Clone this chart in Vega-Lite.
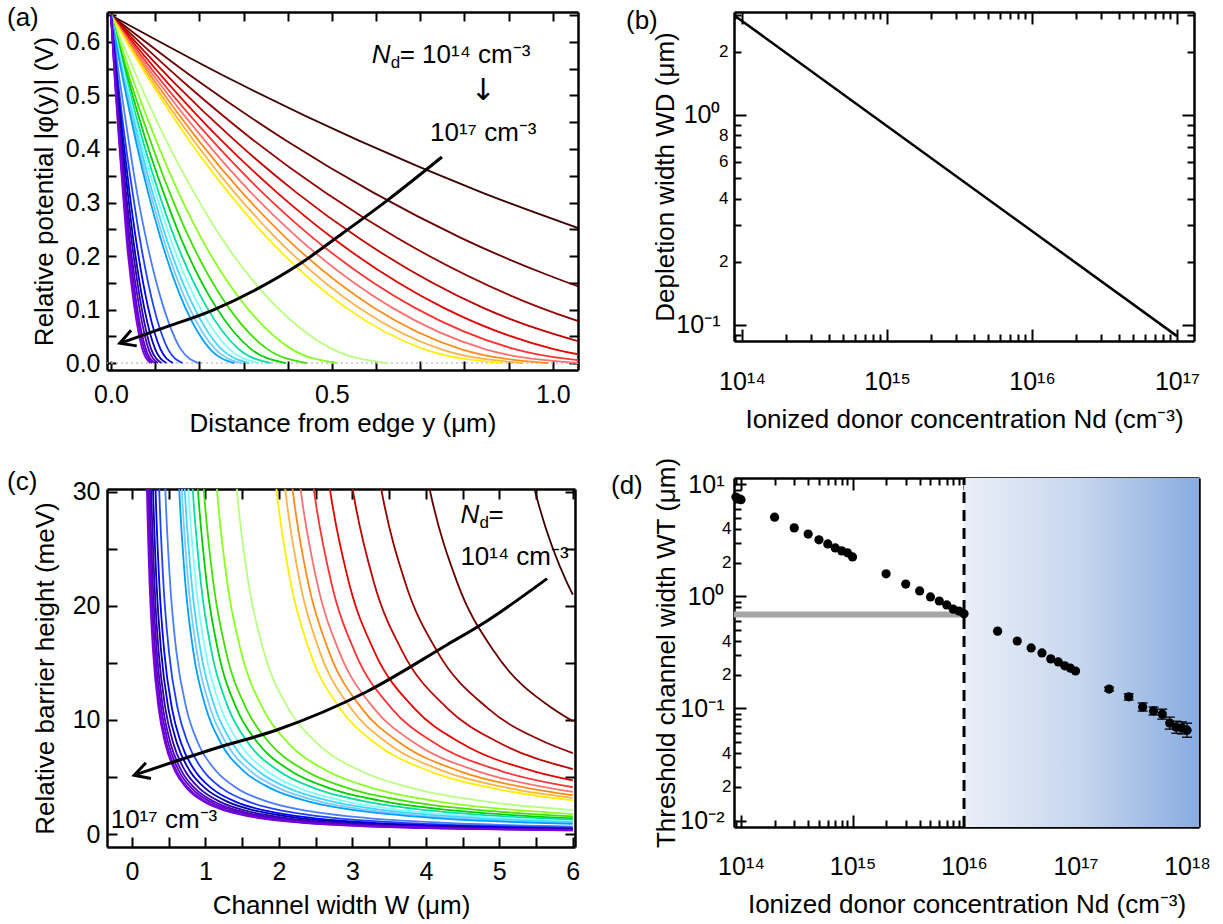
{
  "$schema": "https://vega.github.io/schema/vega-lite/v6.json",
  "padding": {"left": 7, "top": 3, "right": 5, "bottom": 5},
  "background": "white",
  "config": {
    "font": "Liberation Sans",
    "view": {"stroke": null},
    "axis": {"labelFont": "Liberation Sans", "titleFont": "Liberation Sans", "labelFontSize": 25, "titleFontSize": 26, "titleFontWeight": "normal", "labelColor": "black", "titleColor": "black", "tickColor": "black", "domainColor": "black", "tickWidth": 2, "domainWidth": 2.5, "grid": false, "labelOverlap": false, "labelFlush": false, "labelBound": false, "zindex": 1},
    "title": {"font": "Liberation Sans", "fontSize": 26, "fontWeight": "normal", "anchor": "start", "frame": "group", "baseline": "alphabetic", "color": "black", "offset": 0},
    "text": {"font": "Liberation Sans", "fontSize": 26, "color": "black"}
  },
  "datasets": {
    "phi": [
      {"n":0,"x":0,"y":0.65},{"n":0,"x":0.28,"y":0.5265},{"n":0,"x":0.56,"y":0.416},{"n":0,"x":0.84,"y":0.3185},{"n":0,"x":1.12,"y":0.234},
      {"n":1,"x":0,"y":0.65},{"n":1,"x":0.198,"y":0.5265},{"n":1,"x":0.396,"y":0.416},{"n":1,"x":0.594,"y":0.3185},{"n":1,"x":0.792,"y":0.234},{"n":1,"x":1.188,"y":0.104},
      {"n":2,"x":0,"y":0.65},{"n":2,"x":0.162,"y":0.5265},{"n":2,"x":0.323,"y":0.416},{"n":2,"x":0.485,"y":0.3185},{"n":2,"x":0.647,"y":0.234},{"n":2,"x":0.97,"y":0.104},{"n":2,"x":1.294,"y":0.026},
      {"n":3,"x":0,"y":0.65},{"n":3,"x":0.14,"y":0.5265},{"n":3,"x":0.28,"y":0.416},{"n":3,"x":0.42,"y":0.3185},{"n":3,"x":0.56,"y":0.234},{"n":3,"x":0.84,"y":0.104},{"n":3,"x":1.12,"y":0.026},
      {"n":4,"x":0,"y":0.65},{"n":4,"x":0.125,"y":0.5265},{"n":4,"x":0.25,"y":0.416},{"n":4,"x":0.376,"y":0.3185},{"n":4,"x":0.501,"y":0.234},{"n":4,"x":0.751,"y":0.104},{"n":4,"x":1.002,"y":0.026},{"n":4,"x":1.252,"y":0},
      {"n":5,"x":0,"y":0.65},{"n":5,"x":0.114,"y":0.5265},{"n":5,"x":0.229,"y":0.416},{"n":5,"x":0.343,"y":0.3185},{"n":5,"x":0.457,"y":0.234},{"n":5,"x":0.686,"y":0.104},{"n":5,"x":0.914,"y":0.026},{"n":5,"x":1.143,"y":0},
      {"n":6,"x":0,"y":0.65},{"n":6,"x":0.106,"y":0.5265},{"n":6,"x":0.212,"y":0.416},{"n":6,"x":0.317,"y":0.3185},{"n":6,"x":0.423,"y":0.234},{"n":6,"x":0.635,"y":0.104},{"n":6,"x":0.846,"y":0.026},{"n":6,"x":1.058,"y":0},
      {"n":7,"x":0,"y":0.65},{"n":7,"x":0.099,"y":0.5265},{"n":7,"x":0.198,"y":0.416},{"n":7,"x":0.297,"y":0.3185},{"n":7,"x":0.396,"y":0.234},{"n":7,"x":0.594,"y":0.104},{"n":7,"x":0.792,"y":0.026},{"n":7,"x":0.99,"y":0},
      {"n":8,"x":0,"y":0.65},{"n":8,"x":0.093,"y":0.5265},{"n":8,"x":0.187,"y":0.416},{"n":8,"x":0.28,"y":0.3185},{"n":8,"x":0.373,"y":0.234},{"n":8,"x":0.56,"y":0.104},{"n":8,"x":0.746,"y":0.026},{"n":8,"x":0.933,"y":0},
      {"n":9,"x":0,"y":0.65},{"n":9,"x":0.089,"y":0.5265},{"n":9,"x":0.177,"y":0.416},{"n":9,"x":0.266,"y":0.3185},{"n":9,"x":0.354,"y":0.234},{"n":9,"x":0.531,"y":0.104},{"n":9,"x":0.708,"y":0.026},{"n":9,"x":0.885,"y":0},
      {"n":10,"x":0,"y":0.65},{"n":10,"x":0.063,"y":0.5265},{"n":10,"x":0.125,"y":0.416},{"n":10,"x":0.188,"y":0.3185},{"n":10,"x":0.25,"y":0.234},{"n":10,"x":0.376,"y":0.104},{"n":10,"x":0.501,"y":0.026},{"n":10,"x":0.626,"y":0},
      {"n":11,"x":0,"y":0.65},{"n":11,"x":0.051,"y":0.5265},{"n":11,"x":0.102,"y":0.416},{"n":11,"x":0.153,"y":0.3185},{"n":11,"x":0.204,"y":0.234},{"n":11,"x":0.307,"y":0.104},{"n":11,"x":0.409,"y":0.026},{"n":11,"x":0.511,"y":0},
      {"n":12,"x":0,"y":0.65},{"n":12,"x":0.044,"y":0.5265},{"n":12,"x":0.089,"y":0.416},{"n":12,"x":0.133,"y":0.3185},{"n":12,"x":0.177,"y":0.234},{"n":12,"x":0.266,"y":0.104},{"n":12,"x":0.354,"y":0.026},{"n":12,"x":0.443,"y":0},
      {"n":13,"x":0,"y":0.65},{"n":13,"x":0.04,"y":0.5265},{"n":13,"x":0.079,"y":0.416},{"n":13,"x":0.119,"y":0.3185},{"n":13,"x":0.158,"y":0.234},{"n":13,"x":0.238,"y":0.104},{"n":13,"x":0.317,"y":0.026},{"n":13,"x":0.396,"y":0},
      {"n":14,"x":0,"y":0.65},{"n":14,"x":0.036,"y":0.5265},{"n":14,"x":0.072,"y":0.416},{"n":14,"x":0.108,"y":0.3185},{"n":14,"x":0.144,"y":0.234},{"n":14,"x":0.217,"y":0.104},{"n":14,"x":0.289,"y":0.026},{"n":14,"x":0.361,"y":0},
      {"n":15,"x":0,"y":0.65},{"n":15,"x":0.034,"y":0.5265},{"n":15,"x":0.067,"y":0.416},{"n":15,"x":0.101,"y":0.3185},{"n":15,"x":0.134,"y":0.234},{"n":15,"x":0.201,"y":0.104},{"n":15,"x":0.268,"y":0.026},{"n":15,"x":0.335,"y":0},
      {"n":16,"x":0,"y":0.65},{"n":16,"x":0.031,"y":0.5265},{"n":16,"x":0.063,"y":0.416},{"n":16,"x":0.094,"y":0.3185},{"n":16,"x":0.125,"y":0.234},{"n":16,"x":0.188,"y":0.104},{"n":16,"x":0.25,"y":0.026},{"n":16,"x":0.313,"y":0},
      {"n":17,"x":0,"y":0.65},{"n":17,"x":0.03,"y":0.5265},{"n":17,"x":0.059,"y":0.416},{"n":17,"x":0.089,"y":0.3185},{"n":17,"x":0.118,"y":0.234},{"n":17,"x":0.177,"y":0.104},{"n":17,"x":0.236,"y":0.026},{"n":17,"x":0.295,"y":0},
      {"n":18,"x":0,"y":0.65},{"n":18,"x":0.028,"y":0.5265},{"n":18,"x":0.056,"y":0.416},{"n":18,"x":0.084,"y":0.3185},{"n":18,"x":0.112,"y":0.234},{"n":18,"x":0.168,"y":0.104},{"n":18,"x":0.224,"y":0.026},{"n":18,"x":0.28,"y":0},
      {"n":19,"x":0,"y":0.65},{"n":19,"x":0.02,"y":0.5265},{"n":19,"x":0.04,"y":0.416},{"n":19,"x":0.059,"y":0.3185},{"n":19,"x":0.079,"y":0.234},{"n":19,"x":0.119,"y":0.104},{"n":19,"x":0.158,"y":0.026},{"n":19,"x":0.198,"y":0},
      {"n":20,"x":0,"y":0.65},{"n":20,"x":0.016,"y":0.5265},{"n":20,"x":0.032,"y":0.416},{"n":20,"x":0.049,"y":0.3185},{"n":20,"x":0.065,"y":0.234},{"n":20,"x":0.097,"y":0.104},{"n":20,"x":0.129,"y":0.026},{"n":20,"x":0.162,"y":0},
      {"n":21,"x":0,"y":0.65},{"n":21,"x":0.014,"y":0.5265},{"n":21,"x":0.028,"y":0.416},{"n":21,"x":0.042,"y":0.3185},{"n":21,"x":0.056,"y":0.234},{"n":21,"x":0.084,"y":0.104},{"n":21,"x":0.112,"y":0.026},{"n":21,"x":0.14,"y":0},
      {"n":22,"x":0,"y":0.65},{"n":22,"x":0.013,"y":0.5265},{"n":22,"x":0.025,"y":0.416},{"n":22,"x":0.038,"y":0.3185},{"n":22,"x":0.05,"y":0.234},{"n":22,"x":0.075,"y":0.104},{"n":22,"x":0.1,"y":0.026},{"n":22,"x":0.125,"y":0},
      {"n":23,"x":0,"y":0.65},{"n":23,"x":0.011,"y":0.5265},{"n":23,"x":0.023,"y":0.416},{"n":23,"x":0.034,"y":0.3185},{"n":23,"x":0.046,"y":0.234},{"n":23,"x":0.069,"y":0.104},{"n":23,"x":0.091,"y":0.026},{"n":23,"x":0.114,"y":0},
      {"n":24,"x":0,"y":0.65},{"n":24,"x":0.011,"y":0.5265},{"n":24,"x":0.021,"y":0.416},{"n":24,"x":0.032,"y":0.3185},{"n":24,"x":0.042,"y":0.234},{"n":24,"x":0.064,"y":0.104},{"n":24,"x":0.085,"y":0.026},{"n":24,"x":0.106,"y":0},
      {"n":25,"x":0,"y":0.65},{"n":25,"x":0.01,"y":0.5265},{"n":25,"x":0.02,"y":0.416},{"n":25,"x":0.03,"y":0.3185},{"n":25,"x":0.04,"y":0.234},{"n":25,"x":0.059,"y":0.104},{"n":25,"x":0.079,"y":0.026},{"n":25,"x":0.099,"y":0},
      {"n":26,"x":0,"y":0.65},{"n":26,"x":0.009,"y":0.5265},{"n":26,"x":0.019,"y":0.416},{"n":26,"x":0.028,"y":0.3185},{"n":26,"x":0.037,"y":0.234},{"n":26,"x":0.056,"y":0.104},{"n":26,"x":0.075,"y":0.026},{"n":26,"x":0.093,"y":0},
      {"n":27,"x":0,"y":0.65},{"n":27,"x":0.009,"y":0.5265},{"n":27,"x":0.018,"y":0.416},{"n":27,"x":0.027,"y":0.3185},{"n":27,"x":0.035,"y":0.234},{"n":27,"x":0.053,"y":0.104},{"n":27,"x":0.071,"y":0.026},{"n":27,"x":0.089,"y":0}
    ],
    "bar": [
      {"n":0,"x":5.345,"y":34},{"n":0,"x":5.49,"y":30},{"n":0,"x":5.924,"y":22},{"n":0,"x":6,"y":21},
      {"n":1,"x":3.937,"y":34},{"n":1,"x":4.06,"y":30},{"n":1,"x":4.43,"y":22},{"n":1,"x":4.93,"y":16},{"n":1,"x":5.726,"y":11},{"n":1,"x":6,"y":9.9},
      {"n":2,"x":3.293,"y":34},{"n":2,"x":3.4,"y":30},{"n":2,"x":3.722,"y":22},{"n":2,"x":4.156,"y":16},{"n":2,"x":4.849,"y":11},{"n":2,"x":5.642,"y":8},{"n":2,"x":6,"y":7.1},
      {"n":3,"x":2.915,"y":34},{"n":3,"x":3.01,"y":30},{"n":3,"x":3.296,"y":22},{"n":3,"x":3.681,"y":16},{"n":3,"x":4.296,"y":11},{"n":3,"x":5,"y":8},{"n":3,"x":6,"y":5.7},
      {"n":4,"x":2.615,"y":34},{"n":4,"x":2.7,"y":30},{"n":4,"x":2.955,"y":22},{"n":4,"x":3.299,"y":16},{"n":4,"x":3.846,"y":11},{"n":4,"x":4.474,"y":8},{"n":4,"x":5.475,"y":5.5},{"n":4,"x":6,"y":4.7},
      {"n":5,"x":2.402,"y":34},{"n":5,"x":2.48,"y":30},{"n":5,"x":2.715,"y":22},{"n":5,"x":3.031,"y":16},{"n":5,"x":3.536,"y":11},{"n":5,"x":4.114,"y":8},{"n":5,"x":5.036,"y":5.5},{"n":5,"x":6,"y":4.1},
      {"n":6,"x":2.226,"y":34},{"n":6,"x":2.3,"y":30},{"n":6,"x":2.521,"y":22},{"n":6,"x":2.82,"y":16},{"n":6,"x":3.296,"y":11},{"n":6,"x":3.842,"y":8},{"n":6,"x":4.711,"y":5.5},{"n":6,"x":5.708,"y":4},{"n":6,"x":6,"y":3.7},
      {"n":7,"x":2.12,"y":34},{"n":7,"x":2.19,"y":30},{"n":7,"x":2.399,"y":22},{"n":7,"x":2.681,"y":16},{"n":7,"x":3.13,"y":11},{"n":7,"x":3.645,"y":8},{"n":7,"x":4.466,"y":5.5},{"n":7,"x":5.408,"y":4},{"n":7,"x":6,"y":3.4},
      {"n":8,"x":2.024,"y":34},{"n":8,"x":2.09,"y":30},{"n":8,"x":2.288,"y":22},{"n":8,"x":2.556,"y":16},{"n":8,"x":2.983,"y":11},{"n":8,"x":3.472,"y":8},{"n":8,"x":4.251,"y":5.5},{"n":8,"x":5.146,"y":4},{"n":8,"x":6,"y":3.15},
      {"n":9,"x":1.906,"y":34},{"n":9,"x":1.97,"y":30},{"n":9,"x":2.161,"y":22},{"n":9,"x":2.42,"y":16},{"n":9,"x":2.832,"y":11},{"n":9,"x":3.303,"y":8},{"n":9,"x":4.056,"y":5.5},{"n":9,"x":4.918,"y":4},{"n":9,"x":6,"y":2.95},
      {"n":10,"x":1.378,"y":34},{"n":10,"x":1.43,"y":30},{"n":10,"x":1.585,"y":22},{"n":10,"x":1.795,"y":16},{"n":10,"x":2.129,"y":11},{"n":10,"x":2.512,"y":8},{"n":10,"x":3.123,"y":5.5},{"n":10,"x":3.823,"y":4},{"n":10,"x":4.876,"y":2.8},{"n":10,"x":6,"y":2.1},
      {"n":11,"x":1.114,"y":34},{"n":11,"x":1.16,"y":30},{"n":11,"x":1.298,"y":22},{"n":11,"x":1.485,"y":16},{"n":11,"x":1.782,"y":11},{"n":11,"x":2.123,"y":8},{"n":11,"x":2.666,"y":5.5},{"n":11,"x":3.289,"y":4},{"n":11,"x":4.226,"y":2.8},{"n":11,"x":5.42,"y":2},{"n":11,"x":6,"y":1.75},
      {"n":12,"x":0.937,"y":34},{"n":12,"x":0.98,"y":30},{"n":12,"x":1.108,"y":22},{"n":12,"x":1.28,"y":16},{"n":12,"x":1.555,"y":11},{"n":12,"x":1.87,"y":8},{"n":12,"x":2.373,"y":5.5},{"n":12,"x":2.949,"y":4},{"n":12,"x":3.815,"y":2.8},{"n":12,"x":4.919,"y":2},{"n":12,"x":6,"y":1.55},
      {"n":13,"x":0.861,"y":34},{"n":13,"x":0.9,"y":30},{"n":13,"x":1.017,"y":22},{"n":13,"x":1.174,"y":16},{"n":13,"x":1.424,"y":11},{"n":13,"x":1.711,"y":8},{"n":13,"x":2.169,"y":5.5},{"n":13,"x":2.694,"y":4},{"n":13,"x":3.483,"y":2.8},{"n":13,"x":4.489,"y":2},{"n":13,"x":5.931,"y":1.4},{"n":13,"x":6,"y":1.38},
      {"n":14,"x":0.794,"y":34},{"n":14,"x":0.83,"y":30},{"n":14,"x":0.938,"y":22},{"n":14,"x":1.083,"y":16},{"n":14,"x":1.315,"y":11},{"n":14,"x":1.58,"y":8},{"n":14,"x":2.004,"y":5.5},{"n":14,"x":2.489,"y":4},{"n":14,"x":3.219,"y":2.8},{"n":14,"x":4.149,"y":2},{"n":14,"x":5.482,"y":1.4},{"n":14,"x":6,"y":1.25},
      {"n":15,"x":0.737,"y":34},{"n":15,"x":0.77,"y":30},{"n":15,"x":0.869,"y":22},{"n":15,"x":1.001,"y":16},{"n":15,"x":1.213,"y":11},{"n":15,"x":1.456,"y":8},{"n":15,"x":1.842,"y":5.5},{"n":15,"x":2.286,"y":4},{"n":15,"x":2.953,"y":2.8},{"n":15,"x":3.803,"y":2},{"n":15,"x":5.022,"y":1.4},{"n":15,"x":6,"y":1.12},
      {"n":16,"x":0.689,"y":34},{"n":16,"x":0.72,"y":30},{"n":16,"x":0.812,"y":22},{"n":16,"x":0.936,"y":16},{"n":16,"x":1.134,"y":11},{"n":16,"x":1.361,"y":8},{"n":16,"x":1.722,"y":5.5},{"n":16,"x":2.137,"y":4},{"n":16,"x":2.76,"y":2.8},{"n":16,"x":3.554,"y":2},{"n":16,"x":4.694,"y":1.4},{"n":16,"x":6,"y":1.03},
      {"n":17,"x":0.651,"y":34},{"n":17,"x":0.68,"y":30},{"n":17,"x":0.766,"y":22},{"n":17,"x":0.882,"y":16},{"n":17,"x":1.067,"y":11},{"n":17,"x":1.28,"y":8},{"n":17,"x":1.618,"y":5.5},{"n":17,"x":2.006,"y":4},{"n":17,"x":2.589,"y":2.8},{"n":17,"x":3.332,"y":2},{"n":17,"x":4.398,"y":1.4},{"n":17,"x":5.755,"y":1},{"n":17,"x":6,"y":0.95},
      {"n":18,"x":0.618,"y":34},{"n":18,"x":0.645,"y":30},{"n":18,"x":0.726,"y":22},{"n":18,"x":0.835,"y":16},{"n":18,"x":1.009,"y":11},{"n":18,"x":1.208,"y":8},{"n":18,"x":1.525,"y":5.5},{"n":18,"x":1.889,"y":4},{"n":18,"x":2.437,"y":2.8},{"n":18,"x":3.134,"y":2},{"n":18,"x":4.135,"y":1.4},{"n":18,"x":5.408,"y":1},{"n":18,"x":6,"y":0.88},
      {"n":19,"x":0.434,"y":34},{"n":19,"x":0.455,"y":30},{"n":19,"x":0.519,"y":22},{"n":19,"x":0.604,"y":16},{"n":19,"x":0.741,"y":11},{"n":19,"x":0.898,"y":8},{"n":19,"x":1.148,"y":5.5},{"n":19,"x":1.434,"y":4},{"n":19,"x":1.865,"y":2.8},{"n":19,"x":2.414,"y":2},{"n":19,"x":3.201,"y":1.4},{"n":19,"x":4.204,"y":1},{"n":19,"x":5.643,"y":0.7},{"n":19,"x":6,"y":0.65},
      {"n":20,"x":0.354,"y":34},{"n":20,"x":0.372,"y":30},{"n":20,"x":0.428,"y":22},{"n":20,"x":0.503,"y":16},{"n":20,"x":0.622,"y":11},{"n":20,"x":0.759,"y":8},{"n":20,"x":0.977,"y":5.5},{"n":20,"x":1.227,"y":4},{"n":20,"x":1.604,"y":2.8},{"n":20,"x":2.083,"y":2},{"n":20,"x":2.771,"y":1.4},{"n":20,"x":3.646,"y":1},{"n":20,"x":4.904,"y":0.7},{"n":20,"x":6,"y":0.55},
      {"n":21,"x":0.306,"y":34},{"n":21,"x":0.322,"y":30},{"n":21,"x":0.372,"y":22},{"n":21,"x":0.439,"y":16},{"n":21,"x":0.545,"y":11},{"n":21,"x":0.667,"y":8},{"n":21,"x":0.862,"y":5.5},{"n":21,"x":1.086,"y":4},{"n":21,"x":1.422,"y":2.8},{"n":21,"x":1.85,"y":2},{"n":21,"x":2.464,"y":1.4},{"n":21,"x":3.246,"y":1},{"n":21,"x":4.369,"y":0.7},{"n":21,"x":5.796,"y":0.5},{"n":21,"x":6,"y":0.48},
      {"n":22,"x":0.273,"y":34},{"n":22,"x":0.288,"y":30},{"n":22,"x":0.334,"y":22},{"n":22,"x":0.397,"y":16},{"n":22,"x":0.496,"y":11},{"n":22,"x":0.61,"y":8},{"n":22,"x":0.791,"y":5.5},{"n":22,"x":0.999,"y":4},{"n":22,"x":1.312,"y":2.8},{"n":22,"x":1.71,"y":2},{"n":22,"x":2.282,"y":1.4},{"n":22,"x":3.009,"y":1},{"n":22,"x":4.054,"y":0.7},{"n":22,"x":5.383,"y":0.5},{"n":22,"x":6,"y":0.44},
      {"n":23,"x":0.249,"y":34},{"n":23,"x":0.263,"y":30},{"n":23,"x":0.306,"y":22},{"n":23,"x":0.363,"y":16},{"n":23,"x":0.455,"y":11},{"n":23,"x":0.56,"y":8},{"n":23,"x":0.727,"y":5.5},{"n":23,"x":0.919,"y":4},{"n":23,"x":1.208,"y":2.8},{"n":23,"x":1.575,"y":2},{"n":23,"x":2.103,"y":1.4},{"n":23,"x":2.774,"y":1},{"n":23,"x":3.739,"y":0.7},{"n":23,"x":4.965,"y":0.5},{"n":23,"x":6,"y":0.4},
      {"n":24,"x":0.231,"y":34},{"n":24,"x":0.244,"y":30},{"n":24,"x":0.284,"y":22},{"n":24,"x":0.338,"y":16},{"n":24,"x":0.423,"y":11},{"n":24,"x":0.522,"y":8},{"n":24,"x":0.678,"y":5.5},{"n":24,"x":0.858,"y":4},{"n":24,"x":1.128,"y":2.8},{"n":24,"x":1.471,"y":2},{"n":24,"x":1.965,"y":1.4},{"n":24,"x":2.593,"y":1},{"n":24,"x":3.495,"y":0.7},{"n":24,"x":4.642,"y":0.5},{"n":24,"x":5.611,"y":0.4},{"n":24,"x":6,"y":0.37},
      {"n":25,"x":0.215,"y":34},{"n":25,"x":0.228,"y":30},{"n":25,"x":0.266,"y":22},{"n":25,"x":0.317,"y":16},{"n":25,"x":0.399,"y":11},{"n":25,"x":0.493,"y":8},{"n":25,"x":0.642,"y":5.5},{"n":25,"x":0.814,"y":4},{"n":25,"x":1.072,"y":2.8},{"n":25,"x":1.4,"y":2},{"n":25,"x":1.871,"y":1.4},{"n":25,"x":2.471,"y":1},{"n":25,"x":3.333,"y":0.7},{"n":25,"x":4.428,"y":0.5},{"n":25,"x":5.353,"y":0.4},{"n":25,"x":6,"y":0.35},
      {"n":26,"x":0.203,"y":34},{"n":26,"x":0.215,"y":30},{"n":26,"x":0.251,"y":22},{"n":26,"x":0.3,"y":16},{"n":26,"x":0.378,"y":11},{"n":26,"x":0.467,"y":8},{"n":26,"x":0.609,"y":5.5},{"n":26,"x":0.772,"y":4},{"n":26,"x":1.018,"y":2.8},{"n":26,"x":1.33,"y":2},{"n":26,"x":1.778,"y":1.4},{"n":26,"x":2.348,"y":1},{"n":26,"x":3.168,"y":0.7},{"n":26,"x":4.21,"y":0.5},{"n":26,"x":5.09,"y":0.4},{"n":26,"x":5.706,"y":0.35},{"n":26,"x":6,"y":0.33},
      {"n":27,"x":0.192,"y":34},{"n":27,"x":0.204,"y":30},{"n":27,"x":0.239,"y":22},{"n":27,"x":0.287,"y":16},{"n":27,"x":0.363,"y":11},{"n":27,"x":0.45,"y":8},{"n":27,"x":0.588,"y":5.5},{"n":27,"x":0.747,"y":4},{"n":27,"x":0.987,"y":2.8},{"n":27,"x":1.291,"y":2},{"n":27,"x":1.728,"y":1.4},{"n":27,"x":2.285,"y":1},{"n":27,"x":3.084,"y":0.7},{"n":27,"x":4.099,"y":0.5},{"n":27,"x":4.958,"y":0.4},{"n":27,"x":5.559,"y":0.35},{"n":27,"x":6,"y":0.32}
    ],
    "arrA": [{"x":0.749,"y":0.385},{"x":0.627,"y":0.305},{"x":0.525,"y":0.243},{"x":0.427,"y":0.185},{"x":0.33,"y":0.138},{"x":0.231,"y":0.099},{"x":0.127,"y":0.068},{"x":0.025,"y":0.038}],
    "arrC": [{"x":5.65,"y":22.4},{"x":4.81,"y":18.6},{"x":4.29,"y":16.6},{"x":3.2,"y":12.5},{"x":1.96,"y":9.1},{"x":1.13,"y":7.5},{"x":0.05,"y":5.2}],
    "ndlab": [{"p":"a","x":0.59,"y":0.576},{"p":"c","x":4.47,"y":28.0}],
    "lab": [{"p":"a","t":"10¹⁷ cm⁻³","x":0.722,"y":0.43},{"p":"c","t":"10¹⁴ cm⁻³","x":4.47,"y":24.3},{"p":"c","t":"10¹⁷ cm⁻³","x":-0.29,"y":1.23}],
    "down": [{"t":"↓","x":0.842,"y":0.508}],
    "wd": [{"x":9e13,"y":2.951},{"x":1e17,"y":0.0885}],
    "wt": [
      {"x":9e13,"y":7.7},{"x":1e14,"y":7.3},{"x":2e14,"y":5.1},{"x":3e14,"y":4.09},{"x":4e14,"y":3.6},{"x":5e14,"y":3.2},{"x":6e14,"y":2.94},{"x":7e14,"y":2.71},{"x":8e14,"y":2.55},{"x":9e14,"y":2.45},{"x":1e15,"y":2.25},
      {"x":2e15,"y":1.59},{"x":3e15,"y":1.29},{"x":4e15,"y":1.12},{"x":5e15,"y":0.99},{"x":6e15,"y":0.91},{"x":7e15,"y":0.84},{"x":8e15,"y":0.77},{"x":9e15,"y":0.74},{"x":1e16,"y":0.7},
      {"x":2e16,"y":0.49},{"x":3e16,"y":0.4},{"x":4e16,"y":0.347},{"x":5e16,"y":0.313},{"x":6e16,"y":0.277},{"x":7e16,"y":0.26},{"x":8e16,"y":0.24},{"x":9e16,"y":0.229},{"x":1e17,"y":0.216},
      {"x":2e17,"y":0.149},{"x":3e17,"y":0.127},{"x":4e17,"y":0.103},{"x":5e17,"y":0.095},{"x":6e17,"y":0.089},{"x":7e17,"y":0.074},{"x":8e17,"y":0.068},{"x":9e17,"y":0.067},{"x":1e18,"y":0.064}
    ],
    "err": [
      {"x":2e17,"lo":0.143,"hi":0.155},{"x":3e17,"lo":0.119,"hi":0.135},{"x":4e17,"lo":0.0948,"hi":0.112},{"x":5e17,"lo":0.0875,"hi":0.103},{"x":6e17,"lo":0.0803,"hi":0.0986},{"x":7e17,"lo":0.0654,"hi":0.0837},{"x":8e17,"lo":0.0601,"hi":0.0769},{"x":9e17,"lo":0.0592,"hi":0.0758},{"x":1e18,"lo":0.0554,"hi":0.0739}
    ]
  },
  "hconcat": [
    {
      "vconcat": [
        {
          "width": 471, "height": 358,
          "title": {"text": "(a)", "dx": -100, "dy": 32},
          "layer": [
            {"data": {"values": [{"y": 0}]}, "mark": {"type": "rule", "color": "#c4c4c4", "strokeDash": [2, 3], "strokeWidth": 1.5},
             "encoding": {"y": {"field": "y", "type": "quantitative", "scale": {"domain": [-0.013, 0.656], "nice": false, "zero": false}, "axis": null}}},
            {"data": {"name": "phi"}, "mark": {"type": "line", "interpolate": "monotone", "strokeWidth": 1.8, "clip": true},
             "encoding": {
               "x": {"field": "x", "type": "quantitative", "scale": {"domain": [-0.009, 1.057], "nice": false, "zero": false},
                     "axis": {"orient": "bottom", "values": [0,0.1,0.2,0.3,0.4,0.5,0.6,0.7,0.8,0.9,1], "labelExpr": "abs(datum.value*2-round(datum.value*2))<0.001 ? format(datum.value,'.1f') : ''", "title": "Distance from edge y (μm)", "tickSize": -9, "labelPadding": 21, "titlePadding": 3}},
               "y": {"field": "y", "type": "quantitative", "scale": {"domain": [-0.013, 0.656], "nice": false, "zero": false},
                     "axis": {"orient": "left", "values": [0,0.05,0.1,0.15,0.2,0.25,0.3,0.35,0.4,0.45,0.5,0.55,0.6,0.65], "labelExpr": "abs(datum.value*10-round(datum.value*10))<0.001 ? format(datum.value,'.1f') : ''", "title": "Relative potential |φ(y)| (V)", "tickSize": -9, "labelPadding": 16, "titlePadding": 8}},
               "color": {"field": "n", "type": "nominal", "legend": null, "scale": {"domain": [0,1,2,3,4,5,6,7,8,9,10,11,12,13,14,15,16,17,18,19,20,21,22,23,24,25,26,27],
                 "range": ["#3d0000","#680000","#930000","#bf0000","#e60000","#ff3333","#ff7070","#ff8c1a","#ffb347","#ffee00","#b8ff80","#88ff20","#40e000","#00d000","#00e0a0","#80ffff","#40d8ff","#80c8ff","#00a0ff","#4a7dff","#2040ff","#0000ff","#0000b0","#3000a8","#4a00c0","#5a00c8","#6a00d0","#7a00e0"]}}
             }},
            {"data": {"name": "arrA"}, "mark": {"type": "line", "color": "black", "strokeWidth": 3, "interpolate": "monotone"},
             "encoding": {"x": {"field": "x", "type": "quantitative", "scale": {"domain": [-0.009, 1.057], "nice": false, "zero": false}, "axis": null},
                          "y": {"field": "y", "type": "quantitative", "scale": {"domain": [-0.013, 0.656], "nice": false, "zero": false}, "axis": null}}},
            {"data": {"values": [{"x": 0.02, "y": 0.037}]}, "mark": {"type": "point", "shape": "M 1 -0.55 L 0 0 L 1 0.55", "filled": false, "color": "black", "strokeWidth": 3, "size": 900, "angle": -20, "opacity": 1},
             "encoding": {"x": {"field": "x", "type": "quantitative", "axis": null}, "y": {"field": "y", "type": "quantitative", "axis": null}}},
            {"data": {"name": "ndlab"}, "transform": [{"filter": "datum.p == 'a'"}], "mark": {"type": "text", "text": "N", "fontStyle": "italic", "align": "left", "baseline": "middle"},
             "encoding": {"x": {"field": "x", "type": "quantitative", "axis": null}, "y": {"field": "y", "type": "quantitative", "axis": null}}},
            {"data": {"name": "ndlab"}, "transform": [{"filter": "datum.p == 'a'"}], "mark": {"type": "text", "text": "d", "fontSize": 17, "align": "left", "baseline": "middle", "dx": 19, "dy": 8},
             "encoding": {"x": {"field": "x", "type": "quantitative", "axis": null}, "y": {"field": "y", "type": "quantitative", "axis": null}}},
            {"data": {"name": "ndlab"}, "transform": [{"filter": "datum.p == 'a'"}], "mark": {"type": "text", "text": " = 10¹⁴ cm⁻³", "align": "left", "baseline": "middle", "dx": 28},
             "encoding": {"x": {"field": "x", "type": "quantitative", "axis": null}, "y": {"field": "y", "type": "quantitative", "axis": null}}},
            {"data": {"name": "lab"}, "transform": [{"filter": "datum.p == 'a'"}], "mark": {"type": "text", "align": "left", "baseline": "middle"},
             "encoding": {"x": {"field": "x", "type": "quantitative", "axis": null}, "y": {"field": "y", "type": "quantitative", "axis": null}, "text": {"field": "t"}}},
            {"data": {"name": "down"}, "mark": {"type": "text", "align": "center", "baseline": "middle", "font": "DejaVu Sans", "fontSize": 30},
             "encoding": {"x": {"field": "x", "type": "quantitative", "axis": null}, "y": {"field": "y", "type": "quantitative", "axis": null}, "text": {"field": "t"}}},
            {"data": {"values": [{"x": 0, "y": 0}]}, "mark": {"type": "point", "opacity": 0},
             "encoding": {"x": {"field": "x", "type": "quantitative", "axis": {"orient": "top", "values": [0,0.1,0.2,0.3,0.4,0.5,0.6,0.7,0.8,0.9,1], "labels": false, "title": null, "tickSize": -9}},
                          "y": {"field": "y", "type": "quantitative", "axis": {"orient": "right", "values": [0,0.05,0.1,0.15,0.2,0.25,0.3,0.35,0.4,0.45,0.5,0.55,0.6,0.65], "labels": false, "title": null, "tickSize": -9}}}}
          ],
          "resolve": {"axis": {"x": "independent", "y": "independent"}}
        },
        {
          "width": 468, "height": 358,
          "title": {"text": "(c)", "dx": -100, "dy": 19},
          "layer": [
            {"data": {"name": "bar"}, "mark": {"type": "line", "interpolate": "monotone", "strokeWidth": 1.8, "clip": true},
             "encoding": {
               "x": {"field": "x", "type": "quantitative", "scale": {"domain": [-0.34, 6.03], "nice": false, "zero": false},
                     "axis": {"orient": "bottom", "values": [0,0.5,1,1.5,2,2.5,3,3.5,4,4.5,5,5.5,6], "labelExpr": "abs(datum.value-round(datum.value))<0.001 ? format(datum.value,'d') : ''", "title": "Channel width W (μm)", "tickSize": -10, "labelPadding": 22, "titlePadding": 8}},
               "y": {"field": "y", "type": "quantitative", "scale": {"domain": [-1.14, 30.26], "nice": false, "zero": false},
                     "axis": {"orient": "left", "values": [0,5,10,15,20,25,30], "labelExpr": "(datum.value==0||datum.value==10||datum.value==20||datum.value==30) ? format(datum.value,'d') : ''", "title": "Relative barrier height (meV)", "tickSize": -10, "labelPadding": 17, "titlePadding": 14}},
               "color": {"field": "n", "type": "nominal", "legend": null, "scale": {"domain": [0,1,2,3,4,5,6,7,8,9,10,11,12,13,14,15,16,17,18,19,20,21,22,23,24,25,26,27],
                 "range": ["#3d0000","#680000","#930000","#bf0000","#e60000","#ff3333","#ff7070","#ff8c1a","#ffb347","#ffee00","#b8ff80","#88ff20","#40e000","#00d000","#00e0a0","#80ffff","#40d8ff","#80c8ff","#00a0ff","#4a7dff","#2040ff","#0000ff","#0000b0","#3000a8","#4a00c0","#5a00c8","#6a00d0","#7a00e0"]}}
             }},
            {"data": {"name": "arrC"}, "mark": {"type": "line", "color": "black", "strokeWidth": 3, "interpolate": "monotone"},
             "encoding": {"x": {"field": "x", "type": "quantitative", "scale": {"domain": [-0.34, 6.03], "nice": false, "zero": false}, "axis": null},
                          "y": {"field": "y", "type": "quantitative", "scale": {"domain": [-1.14, 30.26], "nice": false, "zero": false}, "axis": null}}},
            {"data": {"values": [{"x": 0.03, "y": 5.15}]}, "mark": {"type": "point", "shape": "M 1 -0.55 L 0 0 L 1 0.55", "filled": false, "color": "black", "strokeWidth": 3, "size": 900, "angle": -18, "opacity": 1},
             "encoding": {"x": {"field": "x", "type": "quantitative", "axis": null}, "y": {"field": "y", "type": "quantitative", "axis": null}}},
            {"data": {"name": "ndlab"}, "transform": [{"filter": "datum.p == 'c'"}], "mark": {"type": "text", "text": "N", "fontStyle": "italic", "align": "left", "baseline": "middle"},
             "encoding": {"x": {"field": "x", "type": "quantitative", "axis": null}, "y": {"field": "y", "type": "quantitative", "axis": null}}},
            {"data": {"name": "ndlab"}, "transform": [{"filter": "datum.p == 'c'"}], "mark": {"type": "text", "text": "d", "fontSize": 17, "align": "left", "baseline": "middle", "dx": 19, "dy": 8},
             "encoding": {"x": {"field": "x", "type": "quantitative", "axis": null}, "y": {"field": "y", "type": "quantitative", "axis": null}}},
            {"data": {"name": "ndlab"}, "transform": [{"filter": "datum.p == 'c'"}], "mark": {"type": "text", "text": " =", "align": "left", "baseline": "middle", "dx": 28},
             "encoding": {"x": {"field": "x", "type": "quantitative", "axis": null}, "y": {"field": "y", "type": "quantitative", "axis": null}}},
            {"data": {"name": "lab"}, "transform": [{"filter": "datum.p == 'c'"}], "mark": {"type": "text", "align": "left", "baseline": "middle"},
             "encoding": {"x": {"field": "x", "type": "quantitative", "axis": null}, "y": {"field": "y", "type": "quantitative", "axis": null}, "text": {"field": "t"}}},
            {"data": {"values": [{"x": 0, "y": 0}]}, "mark": {"type": "point", "opacity": 0},
             "encoding": {"x": {"field": "x", "type": "quantitative", "axis": {"orient": "top", "values": [0,0.5,1,1.5,2,2.5,3,3.5,4,4.5,5,5.5,6], "labels": false, "title": null, "tickSize": -10}},
                          "y": {"field": "y", "type": "quantitative", "axis": {"orient": "right", "values": [0,5,10,15,20,25,30], "labels": false, "title": null, "tickSize": -10}}}}
          ],
          "resolve": {"axis": {"x": "independent", "y": "independent"}}
        }
      ],
      "spacing": 119,
      "bounds": "flush"
    },
    {
      "vconcat": [
        {
          "width": 460, "height": 329,
          "title": {"text": "(b)", "dx": -108, "dy": 32},
          "layer": [
            {"data": {"name": "wd"}, "mark": {"type": "line", "color": "black", "strokeWidth": 2.5, "clip": true},
             "encoding": {
               "x": {"field": "x", "type": "quantitative", "scale": {"type": "log", "domain": [8.8e13, 1.31e17], "nice": false},
                     "axis": {"orient": "bottom", "values": [9e13,1e14,2e14,3e14,4e14,5e14,6e14,7e14,8e14,9e14,1e15,2e15,3e15,4e15,5e15,6e15,7e15,8e15,9e15,1e16,2e16,3e16,4e16,5e16,6e16,7e16,8e16,9e16,1e17],
                              "labelExpr": "datum.value==1e14?'10¹⁴':datum.value==1e15?'10¹⁵':datum.value==1e16?'10¹⁶':datum.value==1e17?'10¹⁷':''",
                              "tickSize": {"condition": {"test": "abs(log(datum.value)/LN10-round(log(datum.value)/LN10))<0.000001", "value": -12}, "value": -7},
                              "labelPadding": 40, "title": "Ionized donor concentration Nd (cm⁻³)", "titlePadding": 7}},
               "y": {"field": "y", "type": "quantitative", "scale": {"type": "log", "domain": [0.0839, 3.09], "nice": false},
                     "axis": {"orient": "left", "values": [0.09,0.1,0.2,0.3,0.4,0.5,0.6,0.7,0.8,0.9,1,2,3],
                              "labelExpr": "datum.value==1?'10⁰':datum.value==0.1?'10⁻¹':(datum.value==2||datum.value==0.2)?'2':datum.value==0.4?'4':datum.value==0.6?'6':datum.value==0.8?'8':''",
                              "labelFontSize": {"condition": {"test": "abs(log(datum.value)/LN10-round(log(datum.value)/LN10))<0.000001", "value": 25}, "value": 17},
                              "labelPadding": {"condition": {"test": "abs(log(datum.value)/LN10-round(log(datum.value)/LN10))<0.000001", "value": 26}, "value": 13},
                              "tickSize": {"condition": {"test": "abs(log(datum.value)/LN10-round(log(datum.value)/LN10))<0.000001", "value": -12}, "value": -7},
                              "title": "Depletion width WD (μm)", "titlePadding": -3}}
             }},
            {"data": {"values": [{"x": 1e15, "y": 1}]}, "mark": {"type": "point", "opacity": 0},
             "encoding": {
               "x": {"field": "x", "type": "quantitative", "axis": {"orient": "top", "values": [9e13,1e14,2e14,3e14,4e14,5e14,6e14,7e14,8e14,9e14,1e15,2e15,3e15,4e15,5e15,6e15,7e15,8e15,9e15,1e16,2e16,3e16,4e16,5e16,6e16,7e16,8e16,9e16,1e17], "labels": false, "title": null,
                     "tickSize": {"condition": {"test": "abs(log(datum.value)/LN10-round(log(datum.value)/LN10))<0.000001", "value": -12}, "value": -7}}},
               "y": {"field": "y", "type": "quantitative", "axis": {"orient": "right", "values": [0.09,0.1,0.2,0.3,0.4,0.5,0.6,0.7,0.8,0.9,1,2,3], "labels": false, "title": null,
                     "tickSize": {"condition": {"test": "abs(log(datum.value)/LN10-round(log(datum.value)/LN10))<0.000001", "value": -12}, "value": -7}}}
             }}
          ],
          "resolve": {"axis": {"x": "independent", "y": "independent"}}
        },
        {
          "width": 465, "height": 349,
          "title": {"text": "(d)", "dx": -123, "dy": 46},
          "layer": [
            {"data": {"values": [{"x": 1e16, "x2": 1.28e18, "y": 0.00875, "y2": 11.4}]},
             "mark": {"type": "rect", "clip": true, "color": {"gradient": "linear", "x1": 0, "y1": 0, "x2": 1, "y2": 0, "stops": [{"offset": 0, "color": "#eaeff8"}, {"offset": 0.5, "color": "#c6d6ee"}, {"offset": 1, "color": "#88ace0"}]}},
             "encoding": {
               "x": {"field": "x", "type": "quantitative", "scale": {"type": "log", "domain": [8.65e13, 1.28e18], "nice": false}, "axis": null},
               "x2": {"field": "x2"},
               "y": {"field": "y", "type": "quantitative", "scale": {"type": "log", "domain": [0.00875, 11.4], "nice": false}, "axis": null},
               "y2": {"field": "y2"}
             }},
            {"data": {"values": [{"x": 8.65e13, "x2": 1e16, "y": 0.69}]}, "mark": {"type": "rule", "color": "#a6a6a6", "strokeWidth": 6},
             "encoding": {"x": {"field": "x", "type": "quantitative", "axis": null}, "x2": {"field": "x2"}, "y": {"field": "y", "type": "quantitative", "axis": null}}},
            {"data": {"values": [{"x": 1e16, "y": 0.00875, "y2": 11.4}]}, "mark": {"type": "rule", "color": "black", "strokeWidth": 3, "strokeDash": [11, 7]},
             "encoding": {"x": {"field": "x", "type": "quantitative", "axis": null}, "y": {"field": "y", "type": "quantitative", "axis": null}, "y2": {"field": "y2"}}},
            {"data": {"name": "err"}, "mark": {"type": "rule", "color": "black", "strokeWidth": 1.3},
             "encoding": {"x": {"field": "x", "type": "quantitative", "axis": null}, "y": {"field": "lo", "type": "quantitative", "axis": null}, "y2": {"field": "hi"}}},
            {"data": {"name": "err"}, "mark": {"type": "tick", "orient": "horizontal", "color": "black", "size": 10, "thickness": 1.3, "opacity": 1},
             "encoding": {"x": {"field": "x", "type": "quantitative", "axis": null}, "y": {"field": "lo", "type": "quantitative", "axis": null}}},
            {"data": {"name": "err"}, "mark": {"type": "tick", "orient": "horizontal", "color": "black", "size": 10, "thickness": 1.3, "opacity": 1},
             "encoding": {"x": {"field": "x", "type": "quantitative", "axis": null}, "y": {"field": "hi", "type": "quantitative", "axis": null}}},
            {"data": {"name": "wt"}, "mark": {"type": "point", "filled": true, "color": "black", "size": 85, "opacity": 1, "shape": "circle"},
             "encoding": {
               "x": {"field": "x", "type": "quantitative",
                     "axis": {"orient": "bottom", "values": [9e13,1e14,2e14,3e14,4e14,5e14,6e14,7e14,8e14,9e14,1e15,2e15,3e15,4e15,5e15,6e15,7e15,8e15,9e15,1e16,2e16,3e16,4e16,5e16,6e16,7e16,8e16,9e16,1e17,2e17,3e17,4e17,5e17,6e17,7e17,8e17,9e17,1e18],
                              "labelExpr": "datum.value==1e14?'10¹⁴':datum.value==1e15?'10¹⁵':datum.value==1e16?'10¹⁶':datum.value==1e17?'10¹⁷':datum.value==1e18?'10¹⁸':''",
                              "tickSize": {"condition": {"test": "abs(log(datum.value)/LN10-round(log(datum.value)/LN10))<0.000001", "value": -12}, "value": -7},
                              "labelPadding": 39, "title": "Ionized donor concentration Nd (cm⁻³)", "titlePadding": 7}},
               "y": {"field": "y", "type": "quantitative",
                     "axis": {"orient": "left", "values": [0.01,0.02,0.03,0.04,0.05,0.06,0.07,0.08,0.09,0.1,0.2,0.3,0.4,0.5,0.6,0.7,0.8,0.9,1,2,3,4,5,6,7,8,9,10],
                              "labelExpr": "datum.value==10?'10¹':datum.value==1?'10⁰':datum.value==0.1?'10⁻¹':datum.value==0.01?'10⁻²':(datum.value==4||datum.value==0.4||datum.value==0.04)?'4':(datum.value==2||datum.value==0.2||datum.value==0.02)?'2':''",
                              "labelFontSize": {"condition": {"test": "abs(log(datum.value)/LN10-round(log(datum.value)/LN10))<0.000001", "value": 25}, "value": 17},
                              "labelPadding": {"condition": {"test": "abs(log(datum.value)/LN10-round(log(datum.value)/LN10))<0.000001", "value": 22}, "value": 10},
                              "tickSize": {"condition": {"test": "abs(log(datum.value)/LN10-round(log(datum.value)/LN10))<0.000001", "value": -12}, "value": -7},
                              "title": "Threshold channel width WT (μm)", "titlePadding": 0}}
             }},
            {"data": {"values": [{"x": 1e15, "y": 1}]}, "mark": {"type": "point", "opacity": 0},
             "encoding": {
               "x": {"field": "x", "type": "quantitative", "axis": {"orient": "top", "values": [9e13,1e14,2e14,3e14,4e14,5e14,6e14,7e14,8e14,9e14,1e15,2e15,3e15,4e15,5e15,6e15,7e15,8e15,9e15,1e16,2e16,3e16,4e16,5e16,6e16,7e16,8e16,9e16,1e17,2e17,3e17,4e17,5e17,6e17,7e17,8e17,9e17,1e18], "labels": false, "title": null,
                     "tickSize": {"condition": {"test": "abs(log(datum.value)/LN10-round(log(datum.value)/LN10))<0.000001", "value": -12}, "value": -7}}},
               "y": {"field": "y", "type": "quantitative", "axis": {"orient": "right", "values": [0.01,0.02,0.03,0.04,0.05,0.06,0.07,0.08,0.09,0.1,0.2,0.3,0.4,0.5,0.6,0.7,0.8,0.9,1,2,3,4,5,6,7,8,9,10], "labels": false, "title": null,
                     "tickSize": {"condition": {"test": "abs(log(datum.value)/LN10-round(log(datum.value)/LN10))<0.000001", "value": -12}, "value": -7}}}
             }}
          ],
          "resolve": {"axis": {"x": "independent", "y": "independent"}}
        }
      ],
      "spacing": 137,
      "bounds": "flush"
    }
  ],
  "spacing": 31,
  "bounds": "full"
}
